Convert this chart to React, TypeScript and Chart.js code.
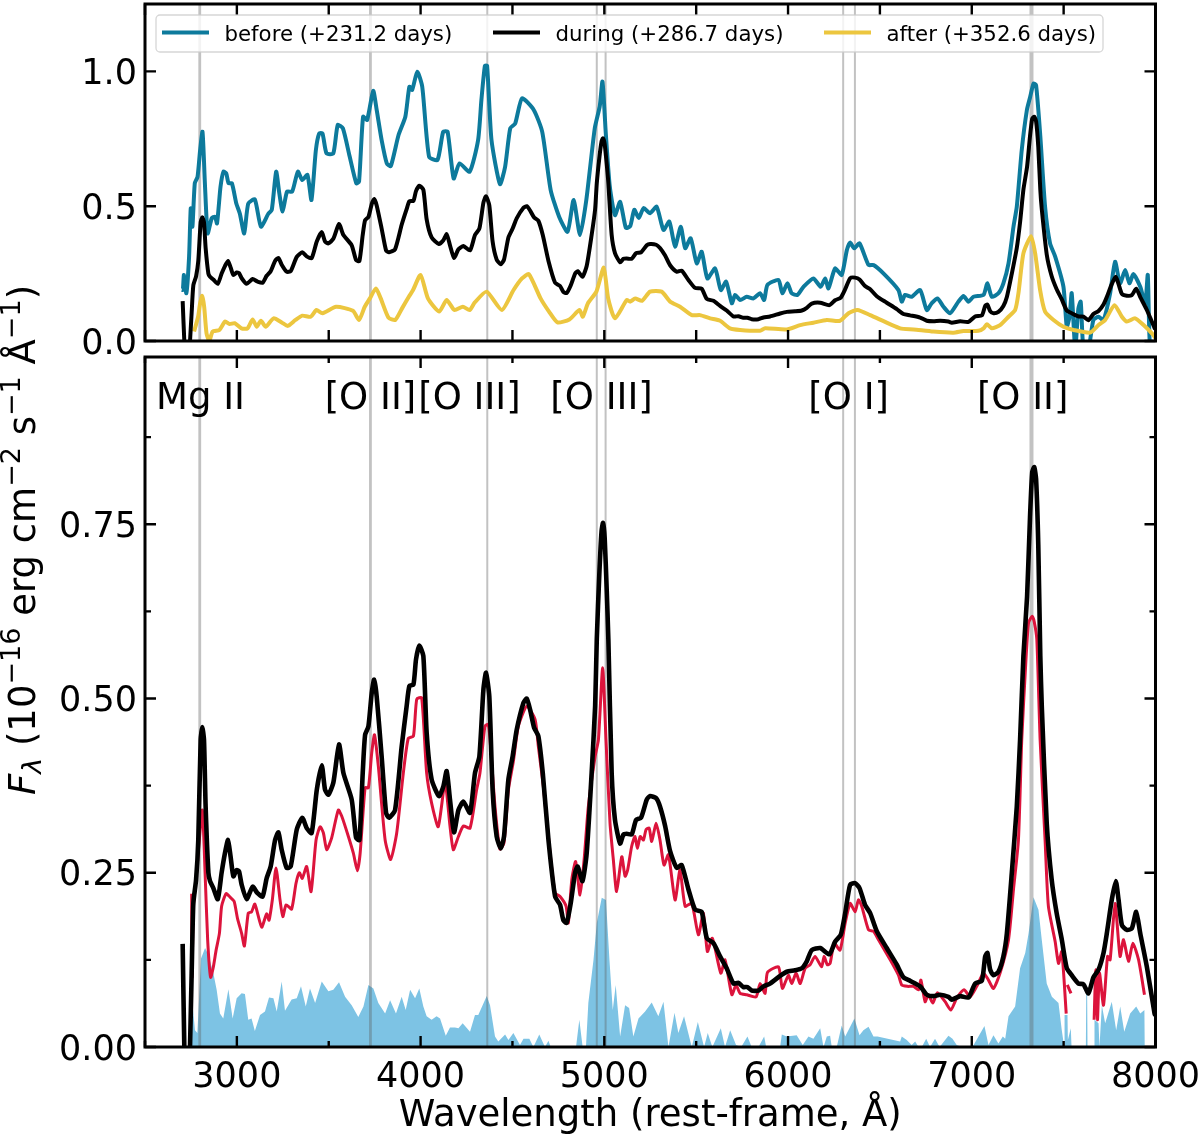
import { useEffect, useRef } from "react";
import { Chart, registerables } from "chart.js";

Chart.register(...registerables);

const FONT = "'DejaVu Sans'";
const BLUE = "#0d7a9c";
const YELLOW = "#ecc63f";
const RED = "#dc143c";
const FILL = "#7dc3e4";

const duringWave = [2705,2714,2720,2740,2745,2754,2763,2778,2790,2803,2812,2821,2830,2845,2854,2872,2896,2917,2935,2952,2966,2981,2999,3012,3026,3053,3086,3111,3140,3162,3184,3208,3226,3244,3271,3293,3326,3356,3380,3407,3435,3462,3480,3498,3525,3556,3580,3625,3649,3667,3685,3698,3716,3734,3747,3761,3788,3812,3828,3861,3897,3924,3939,3961,3975,3993,4015,4033,4060,4100,4124,4142,4160,4182,4206,4233,4269,4296,4320,4342,4356,4374,4392,4414,4436,4454,4478,4501,4523,4560,4578,4596,4618,4641,4665,4696,4732,4759,4777,4795,4817,4841,4855,4881,4904,4931,4950,4959,4973,4985,4993,5002,5013,5022,5040,5058,5086,5104,5122,5149,5173,5200,5231,5249,5282,5303,5331,5358,5394,5421,5458,5494,5530,5558,5594,5630,5666,5703,5730,5757,5779,5802,5839,5866,5902,5957,5993,6038,6075,6102,6129,6175,6225,6256,6287,6311,6338,6365,6389,6419,6447,6483,6537,6592,6628,6664,6719,6755,6791,6828,6873,6891,6937,6982,7018,7055,7073,7085,7100,7118,7145,7172,7191,7218,7245,7263,7281,7301,7317,7329,7340,7350,7362,7373,7381,7408,7435,7462,7490,7517,7544,7581,7608,7635,7662,7690,7717,7735,7762,7784,7799,7817,7844,7871,7895,7917,7953,7995,8000];
const duringFlux = [0.148,0,-0.05,-0.05,0,0.106,0.206,0.24,0.297,0.441,0.459,0.441,0.345,0.25,0.238,0.228,0.212,0.25,0.278,0.297,0.273,0.245,0.254,0.252,0.233,0.212,0.23,0.221,0.216,0.242,0.259,0.297,0.308,0.283,0.257,0.259,0.312,0.329,0.314,0.307,0.369,0.404,0.369,0.362,0.379,0.434,0.393,0.355,0.3,0.297,0.393,0.448,0.46,0.508,0.527,0.503,0.417,0.336,0.329,0.34,0.431,0.489,0.518,0.52,0.556,0.576,0.561,0.451,0.384,0.36,0.374,0.396,0.355,0.308,0.34,0.352,0.336,0.393,0.417,0.513,0.537,0.503,0.369,0.302,0.285,0.302,0.384,0.417,0.455,0.494,0.5,0.484,0.458,0.446,0.393,0.297,0.216,0.204,0.182,0.178,0.206,0.25,0.259,0.238,0.278,0.393,0.489,0.585,0.68,0.74,0.752,0.73,0.656,0.585,0.393,0.326,0.292,0.305,0.306,0.305,0.326,0.329,0.355,0.36,0.357,0.345,0.317,0.281,0.257,0.261,0.226,0.197,0.194,0.156,0.149,0.13,0.113,0.091,0.092,0.086,0.086,0.081,0.081,0.087,0.091,0.102,0.108,0.11,0.113,0.123,0.139,0.142,0.133,0.151,0.161,0.192,0.233,0.235,0.228,0.204,0.192,0.166,0.142,0.118,0.1,0.095,0.087,0.075,0.073,0.075,0.072,0.068,0.073,0.071,0.091,0.095,0.13,0.135,0.111,0.103,0.108,0.13,0.163,0.25,0.345,0.441,0.561,0.646,0.76,0.825,0.832,0.815,0.72,0.561,0.489,0.321,0.24,0.192,0.154,0.113,0.103,0.091,0.09,0.077,0.1,0.111,0.135,0.163,0.211,0.238,0.211,0.175,0.168,0.17,0.194,0.163,0.115,0.048,0.045];

const beforeWave = [2700,2706,2712,2725,2740,2749,2758,2771,2786,2800,2813,2826,2841,2863,2881,2892,2911,2927,2942,2955,2973,2997,3016,3040,3062,3098,3131,3172,3190,3214,3231,3249,3273,3301,3332,3356,3384,3406,3430,3448,3466,3488,3525,3549,3577,3614,3650,3665,3687,3709,3742,3761,3788,3816,3838,3880,3917,3939,3954,3982,4009,4046,4092,4123,4147,4180,4212,4267,4313,4331,4350,4362,4386,4432,4460,4488,4515,4552,4616,4662,4708,4754,4800,4833,4868,4902,4948,4975,4990,5008,5030,5058,5086,5117,5141,5163,5187,5214,5249,5285,5322,5354,5385,5416,5440,5470,5503,5530,5561,5603,5634,5663,5694,5712,5739,5775,5812,5848,5870,5888,5948,5969,5997,6020,6051,6084,6138,6178,6202,6220,6256,6292,6320,6338,6360,6389,6438,6465,6519,6601,6619,6637,6673,6719,6755,6782,6813,6846,6882,6927,6955,6982,7009,7064,7085,7109,7145,7172,7200,7227,7245,7272,7300,7318,7336,7350,7372,7399,7426,7454,7499,7517,7532,7544,7563,7580,7593,7608,7635,7662,7690,7717,7753,7780,7807,7835,7858,7880,7917,7944,7958,7971,8000];
const beforeFlux = [0.19,0.189,0.245,0.177,0.313,0.492,0.424,0.585,0.609,0.708,0.776,0.585,0.399,0.455,0.461,0.436,0.572,0.628,0.622,0.585,0.585,0.51,0.473,0.399,0.51,0.525,0.424,0.473,0.486,0.628,0.548,0.48,0.554,0.554,0.628,0.597,0.616,0.523,0.708,0.77,0.77,0.696,0.696,0.801,0.789,0.684,0.585,0.591,0.832,0.82,0.928,0.857,0.745,0.659,0.649,0.764,0.832,0.943,0.931,0.999,0.943,0.684,0.671,0.776,0.776,0.603,0.659,0.628,0.745,0.894,1.021,1.021,0.745,0.582,0.646,0.789,0.807,0.9,0.857,0.776,0.56,0.461,0.405,0.523,0.393,0.523,0.789,0.87,0.962,0.77,0.572,0.467,0.516,0.42,0.426,0.487,0.456,0.493,0.474,0.498,0.412,0.443,0.35,0.424,0.344,0.381,0.288,0.331,0.232,0.269,0.189,0.22,0.14,0.171,0.152,0.164,0.158,0.177,0.152,0.208,0.226,0.177,0.214,0.177,0.171,0.201,0.232,0.201,0.232,0.195,0.269,0.245,0.337,0.365,0.344,0.362,0.282,0.282,0.251,0.189,0.146,0.171,0.164,0.189,0.115,0.14,0.158,0.127,0.103,0.146,0.167,0.146,0.164,0.171,0.214,0.164,0.177,0.214,0.288,0.424,0.498,0.708,0.857,0.906,0.955,0.949,0.77,0.498,0.362,0.313,0.201,0.053,0.09,0.177,-0.03,0.12,0.146,-0.03,-0.03,0.078,0.09,0.078,0.177,0.294,0.214,0.263,0.214,0.248,0.201,0.14,0.245,-0.03,-0.03];

const afterWave = [2767,2789,2800,2811,2822,2835,2850,2868,2905,2936,2960,2988,3025,3058,3086,3108,3131,3157,3200,3246,3277,3319,3356,3402,3433,3466,3540,3632,3665,3696,3724,3757,3783,3825,3862,3899,3936,3959,4000,4040,4101,4142,4184,4230,4267,4294,4359,4442,4506,4552,4589,4653,4699,4745,4810,4865,4883,4911,4957,4997,5021,5058,5122,5141,5168,5205,5249,5312,5358,5412,5476,5521,5576,5630,5684,5739,5848,5875,5993,6066,6138,6211,6283,6329,6378,6447,6610,6683,6791,6900,6955,7036,7064,7082,7109,7154,7200,7236,7254,7281,7323,7345,7372,7399,7445,7499,7554,7644,7690,7726,7777,7817,7844,7889,7935,7989,8000];
const afterFlux = [0.035,0.09,0.14,0.167,0.127,0.028,0,0.035,0.041,0.072,0.063,0.066,0.047,0.047,0.08,0.053,0.075,0.053,0.084,0.068,0.056,0.078,0.094,0.09,0.115,0.103,0.127,0.112,0.078,0.127,0.158,0.195,0.158,0.087,0.078,0.121,0.164,0.189,0.245,0.158,0.109,0.152,0.115,0.127,0.115,0.142,0.183,0.115,0.189,0.232,0.248,0.158,0.109,0.069,0.08,0.115,0.09,0.14,0.183,0.272,0.158,0.084,0.152,0.146,0.158,0.149,0.183,0.183,0.146,0.127,0.096,0.096,0.084,0.075,0.047,0.041,0.038,0.047,0.043,0.059,0.068,0.078,0.075,0.103,0.115,0.096,0.047,0.043,0.035,0.031,0.037,0.038,0.047,0.062,0.047,0.059,0.09,0.115,0.177,0.325,0.389,0.325,0.189,0.109,0.078,0.053,0.041,0.031,0.059,0.078,0.133,0.09,0.072,0.084,0.059,0.022,0.01];

const redWave = [2754,2756,2763,2778,2790,2812,2827,2841,2857,2872,2887,2905,2917,2941,2963,2985,3003,3026,3041,3062,3080,3098,3135,3162,3175,3193,3213,3235,3250,3268,3298,3322,3340,3356,3380,3404,3431,3453,3471,3489,3516,3552,3571,3607,3634,3656,3671,3698,3716,3734,3749,3770,3807,3837,3870,3906,3933,3961,3979,4006,4033,4060,4096,4133,4160,4178,4206,4233,4269,4305,4323,4350,4368,4378,4405,4432,4454,4478,4505,4532,4578,4623,4641,4668,4705,4732,4759,4792,4804,4823,4844,4868,4890,4913,4950,4968,4991,5009,5031,5049,5067,5095,5113,5127,5149,5167,5180,5195,5213,5227,5244,5258,5282,5303,5325,5349,5385,5412,5440,5476,5512,5539,5561,5588,5634,5657,5694,5717,5739,5775,5826,5848,5875,5888,5948,5969,6002,6020,6044,6066,6093,6120,6147,6183,6196,6214,6229,6251,6283,6311,6338,6365,6383,6401,6438,6465,6492,6556,6601,6619,6650,6683,6710,6723,6746,6764,6788,6813,6855,6886,6918,6958,6991,7027,7064,7091,7118,7154,7200,7227,7254,7272,7291,7309,7329,7340,7354,7372,7399,7417,7454,7472,7490,7514];
const redFlux = [0.22,0.1,0.2,0.24,0.28,0.34,0.25,0.154,0.1,0.115,0.139,0.163,0.202,0.22,0.215,0.209,0.185,0.163,0.145,0.192,0.194,0.205,0.172,0.191,0.182,0.211,0.257,0.211,0.187,0.204,0.198,0.235,0.25,0.242,0.259,0.223,0.297,0.316,0.307,0.283,0.3,0.34,0.331,0.302,0.278,0.253,0.278,0.372,0.372,0.422,0.448,0.403,0.297,0.269,0.307,0.393,0.443,0.446,0.499,0.501,0.393,0.35,0.316,0.379,0.317,0.283,0.302,0.317,0.314,0.369,0.393,0.46,0.463,0.441,0.345,0.284,0.293,0.369,0.41,0.46,0.489,0.47,0.431,0.374,0.278,0.221,0.216,0.202,0.178,0.24,0.266,0.218,0.269,0.345,0.417,0.441,0.544,0.441,0.321,0.269,0.223,0.273,0.245,0.254,0.288,0.302,0.285,0.302,0.297,0.312,0.314,0.295,0.321,0.297,0.261,0.276,0.211,0.254,0.202,0.206,0.161,0.192,0.137,0.156,0.106,0.125,0.075,0.089,0.077,0.075,0.072,0.091,0.077,0.107,0.115,0.084,0.103,0.091,0.106,0.091,0.113,0.118,0.13,0.115,0.13,0.118,0.12,0.149,0.139,0.178,0.206,0.194,0.211,0.202,0.168,0.166,0.154,0.125,0.103,0.089,0.087,0.087,0.082,0.096,0.065,0.075,0.063,0.078,0.065,0.053,0.07,0.082,0.072,0.087,0.106,0.096,0.084,0.106,0.154,0.226,0.297,0.441,0.537,0.609,0.618,0.61,0.585,0.441,0.297,0.202,0.151,0.12,0.137,0.048];
const redWave2 = [7520,7540];
const redFlux2 = [0.089,0.077];
const redWave3 = [7666,7675,7684,7695,7717,7739,7753,7780,7807,7826,7853,7877,7908,7940];
const redFlux3 = [0.039,0.111,0.039,0.106,0.06,0.13,0.125,0.206,0.13,0.154,0.123,0.149,0.125,0.075];

const errWave = [2750,2758,2772,2785,2805,2827,2845,2872,2890,2908,2926,2954,2977,2999,3026,3044,3062,3080,3098,3126,3153,3175,3199,3217,3244,3262,3298,3326,3349,3375,3398,3426,3462,3498,3525,3556,3589,3625,3661,3689,3716,3743,3770,3807,3834,3866,3897,3919,3943,3970,3993,4015,4033,4060,4087,4106,4137,4160,4187,4206,4229,4269,4296,4314,4360,4378,4405,4423,4460,4478,4505,4541,4560,4592,4614,4646,4677,4696,4708,4846,4864,4882,4900,4913,4941,4959,4986,5009,5028,5046,5062,5086,5113,5135,5158,5186,5222,5258,5294,5322,5349,5382,5403,5434,5476,5509,5543,5563,5588,5634,5657,5685,5717,5745,5779,5802,5839,5870,5881,5957,5966,5993,6047,6080,6111,6138,6175,6193,6211,6229,6238,6265,6292,6311,6334,6361,6389,6410,6438,6465,6487,6610,6619,6646,6673,6692,6710,6728,6752,6773,6800,6825,6873,6895,6918,6945,6991,7010,7069,7091,7118,7145,7169,7182,7200,7236,7263,7291,7309,7336,7363,7381,7408,7436,7472,7490,7503,7505,7521,7523,7539,7543,7621,7623,7628,7630,7666,7668,7690,7695,7708,7726,7762,7786,7808,7830,7862,7895,7917,7940,7942];
const errFlux = [0,0.063,0.024,0.02,0.127,0.142,0.132,0.106,0.082,0.048,0.041,0.083,0.041,0.07,0.077,0.076,0.039,0.041,0.023,0.046,0.051,0.071,0.07,0.051,0.094,0.052,0.068,0.07,0.087,0.058,0.084,0.063,0.094,0.08,0.082,0.093,0.072,0.06,0.043,0.058,0.089,0.084,0.063,0.048,0.067,0.048,0.072,0.053,0.082,0.07,0.084,0.058,0.044,0.039,0.044,0.041,0.016,0.028,0.028,0.027,0.034,0.022,0.046,0.046,0.073,0.06,0.015,0.008,0.018,0.01,0.02,0.003,0.012,0.012,0,0.018,0,0.009,0,0,0.039,0,0,0.063,0.125,0.178,0.214,0.211,0.125,0.053,0.089,0.015,0.06,0.056,0.015,0.041,0.051,0.064,0.044,0.065,0,0.049,0.02,0.044,0,0.036,0,0.02,0,0.027,0,0.024,0.003,0,0.015,0,0,0.015,0,0,0.018,0.015,0.017,0.003,0.015,0.012,0.027,0,0.015,0.016,0,0,0.031,0.015,0.027,0.041,0.017,0.024,0.029,0.015,0.015,0.008,0.015,0.01,0.003,0.008,0,0,0.012,0,0.012,0,0.016,0.012,0.003,0,0,0.003,0.03,0.003,0.017,0.005,0.015,0.012,0.044,0.058,0.113,0.135,0.163,0.215,0.197,0.154,0.091,0.072,0.063,0.024,0,0.046,0.046,0.01,0.027,0,0,0.077,0.077,0,0,0.039,0.034,0,0.06,0.034,0.065,0.024,0.058,0.022,0.048,0.058,0.048,0.053,0];

const lineWaves = [2798,3727,4363,4959,5007,6300,6364,7325];
const lineNames = ["Mg II","[O II]","[O III]","[O III]","[O I]","[O II]"];
const lineNameWaves = [2802,3727,4266,4985,6330,7277];

const legendLabels = ["before (+231.2 days)","during (+286.7 days)","after (+352.6 days)"];

const topTicksY = ["0.0","0.5","1.0"];
const bottomTicksY = ["0.00","0.25","0.50","0.75"];

function pts(xs: number[], ys: number[]) {
  return xs.map((x, i) => ({ x, y: ys[i] }));
}

function curve(label: string, xs: number[], ys: number[], color: string, width: number, order: number, tension = 0.2) {
  return {
    label,
    data: pts(xs, ys),
    borderColor: color,
    borderWidth: width,
    pointRadius: 0,
    tension,
    borderJoinStyle: "round" as const,
    order,
    fill: false,
  };
}

function lineSets(ymax: number) {
  return lineWaves.map((w) => ({
    data: pts([w, w], [0, ymax]),
    borderColor: "rgba(95,95,95,0.38)",
    borderWidth: w === 7325 ? 4 : w === 2798 || w === 3727 ? 2.8 : 2,
    pointRadius: 0,
    order: 8,
    fill: false,
  }));
}

// chart.js keeps room for half a tick label otherwise, which moves the plot area
function pinX(height: number) {
  return (s: any) => {
    s.height = height;
    s.paddingLeft = 0;
    s.paddingRight = 0;
    s.paddingTop = 0;
    s.paddingBottom = 0;
  };
}

function pinY(s: any) {
  s.width = 145;
  s.paddingLeft = 0;
  s.paddingRight = 0;
  s.paddingTop = 0;
  s.paddingBottom = 0;
}

// inward ticks on all four sides, the frame, and the y tick labels
const framePlugin = {
  id: "frame",
  afterDatasetsDraw(chart: any, _a: any, opts: any) {
    const { ctx, chartArea: a, scales } = chart;
    ctx.save();
    ctx.strokeStyle = "#000";
    ctx.lineWidth = 2.4;
    scales.x.ticks.forEach((t: any) => {
      const p = scales.x.getPixelForValue(t.value);
      const len = t.value % 1000 === 0 || !opts.minorX ? 11 : 6;
      ctx.beginPath();
      ctx.moveTo(p, a.bottom);
      ctx.lineTo(p, a.bottom - len);
      ctx.moveTo(p, a.top);
      ctx.lineTo(p, a.top + len);
      ctx.stroke();
    });
    ctx.fillStyle = "#000";
    ctx.font = `35px ${FONT}`;
    ctx.textAlign = "right";
    ctx.textBaseline = "alphabetic";
    scales.y.ticks.forEach((t: any) => {
      const p = scales.y.getPixelForValue(t.value);
      const len = t.label !== "" ? 11 : 6;
      ctx.beginPath();
      ctx.moveTo(a.left, p);
      ctx.lineTo(a.left + len, p);
      ctx.moveTo(a.right, p);
      ctx.lineTo(a.right - len, p);
      ctx.stroke();
      if (t.label !== "") {
        ctx.fillText(t.label, a.left - 8, p + 12.5);
      }
    });
    ctx.lineWidth = 3;
    ctx.strokeRect(a.left, a.top, a.right - a.left, a.bottom - a.top);
    ctx.restore();
  },
};

const legendPlugin = {
  id: "boxLegend",
  afterDatasetsDraw(chart: any) {
    const { ctx } = chart;
    ctx.save();
    ctx.beginPath();
    ctx.roundRect(156, 15, 947, 37, 4);
    ctx.fillStyle = "rgba(255,255,255,0.8)";
    ctx.fill();
    ctx.strokeStyle = "rgba(204,204,204,0.8)";
    ctx.lineWidth = 1.3;
    ctx.stroke();
    const colors = [BLUE, "#000", YELLOW];
    const starts = [162, 493, 824];
    ctx.font = `21.3px ${FONT}`;
    ctx.textBaseline = "alphabetic";
    legendLabels.forEach((l, i) => {
      ctx.strokeStyle = colors[i];
      ctx.lineWidth = 4;
      ctx.beginPath();
      ctx.moveTo(starts[i], 32.5);
      ctx.lineTo(starts[i] + 47, 32.5);
      ctx.stroke();
      ctx.fillStyle = "#000";
      ctx.fillText(l, starts[i] + 62.5, 40.5);
    });
    ctx.restore();
  },
};

const namesPlugin = {
  id: "lineNames",
  afterDatasetsDraw(chart: any) {
    const { ctx, scales } = chart;
    ctx.save();
    ctx.font = `37px ${FONT}`;
    ctx.fillStyle = "#000";
    ctx.textAlign = "center";
    lineNames.forEach((n, i) => {
      ctx.fillText(n, scales.x.getPixelForValue(lineNameWaves[i]), 409);
    });
    ctx.restore();
  },
};

// y label has sub and superscripts, the axis title can't do that
const yLabelPlugin = {
  id: "yLabel",
  afterDraw(chart: any) {
    const { ctx } = chart;
    const size = 37;
    const small = 27;
    const parts: [string, string, number][] = [
      ["F", `italic ${size}px ${FONT}`, 0],
      ["λ", `italic ${small}px ${FONT}`, -6],
      [" (10", `${size}px ${FONT}`, 0],
      ["−16", `${small}px ${FONT}`, 15],
      [" erg cm", `${size}px ${FONT}`, 0],
      ["−2", `${small}px ${FONT}`, 15],
      [" s", `${size}px ${FONT}`, 0],
      ["−1", `${small}px ${FONT}`, 15],
      [" Å", `${size}px ${FONT}`, 0],
      ["−1", `${small}px ${FONT}`, 15],
      [")", `${size}px ${FONT}`, 0],
    ];
    ctx.save();
    let total = 0;
    parts.forEach(([t, f]) => {
      ctx.font = f;
      total += ctx.measureText(t).width;
    });
    ctx.translate(35, 540);
    ctx.rotate(-Math.PI / 2);
    ctx.fillStyle = "#000";
    let x = -total / 2;
    parts.forEach(([t, f, dy]) => {
      ctx.font = f;
      ctx.fillText(t, x, -dy);
      x += ctx.measureText(t).width;
    });
    ctx.restore();
  },
};

export default function App() {
  const topRef = useRef<HTMLCanvasElement | null>(null);
  const bottomRef = useRef<HTMLCanvasElement | null>(null);

  useEffect(() => {
    if (!topRef.current || !bottomRef.current) {
      return;
    }

    const xBase = { type: "linear" as const, min: 2500, max: 8000, grid: { display: false }, border: { display: false } };

    const topChart = new Chart(topRef.current, {
      type: "line",
      data: {
        datasets: [
          ...lineSets(1.25),
          curve(legendLabels[0], beforeWave, beforeFlux, BLUE, 4, 3),
          curve(legendLabels[2], afterWave, afterFlux, YELLOW, 4, 2),
          curve(legendLabels[1], duringWave, duringFlux, "#000", 4, 1),
        ] as any,
      },
      options: {
        responsive: false,
        animation: false,
        layout: { padding: { top: 4, left: 0, right: 44.5, bottom: 0 } },
        plugins: { legend: { display: false }, tooltip: { enabled: false }, frame: { minorX: false } } as any,
        scales: {
          x: {
            ...xBase,
            ticks: { display: false, stepSize: 500, autoSkip: false },
            afterFit: pinX(795),
          },
          y: {
            min: 0,
            max: 1.25,
            grid: { display: false },
            border: { display: false },
            afterFit: pinY,
            ticks: {
              display: false,
              stepSize: 0.5,
              includeBounds: false,
              autoSkip: false,
              callback: (v: any) => topTicksY[Math.round(Number(v) / 0.5)] ?? "",
            },
          },
        },
      },
      plugins: [framePlugin, legendPlugin],
    });

    const bottomChart = new Chart(bottomRef.current, {
      type: "line",
      data: {
        datasets: [
          {
            label: "error",
            data: pts(errWave, errFlux),
            borderWidth: 0,
            borderColor: FILL,
            backgroundColor: FILL,
            pointRadius: 0,
            fill: "origin",
            order: 9,
          },
          ...lineSets(0.99),
          curve("red", redWave, redFlux, RED, 3, 3),
          curve("red2", redWave2, redFlux2, RED, 3, 3),
          curve("red3", redWave3, redFlux3, RED, 3, 3),
          curve("during", duringWave, duringFlux, "#000", 4.6, 1),
        ] as any,
      },
      options: {
        responsive: false,
        animation: false,
        layout: { padding: { top: 357, left: 0, right: 44.5, bottom: 0 } },
        plugins: { legend: { display: false }, tooltip: { enabled: false }, frame: { minorX: true } } as any,
        scales: {
          x: {
            ...xBase,
            afterFit: pinX(89),
            title: {
              display: true,
              text: "Wavelength (rest-frame, Å)",
              color: "#000",
              font: { family: FONT, size: 37 },
              padding: { top: 0, bottom: -3 },
            },
            ticks: {
              stepSize: 500,
              autoSkip: false,
              maxRotation: 0,
              padding: 2,
              color: "#000",
              font: { family: FONT, size: 35 },
              callback: (v: any) => (Number(v) % 1000 === 0 && Number(v) > 2500 ? String(v) : ""),
            },
          },
          y: {
            min: 0,
            max: 0.99,
            grid: { display: false },
            border: { display: false },
            afterFit: pinY,
            ticks: {
              display: false,
              stepSize: 0.125,
              includeBounds: false,
              autoSkip: false,
              callback: (v: any) => {
                const k = Number(v) / 0.25;
                return Math.abs(k - Math.round(k)) < 1e-6 ? bottomTicksY[Math.round(k)] ?? "" : "";
              },
            },
          },
        },
      },
      plugins: [framePlugin, namesPlugin, yLabelPlugin],
    });

    return () => {
      topChart.destroy();
      bottomChart.destroy();
    };
  }, []);

  return (
    <div style={{ position: "absolute", left: 0, top: 0, width: 1200, height: 1136, background: "#fff" }}>
      <canvas ref={bottomRef} width={1200} height={1136} style={{ position: "absolute", left: 0, top: 0 }}></canvas>
      <canvas ref={topRef} width={1200} height={1136} style={{ position: "absolute", left: 0, top: 0 }}></canvas>
    </div>
  );
}
